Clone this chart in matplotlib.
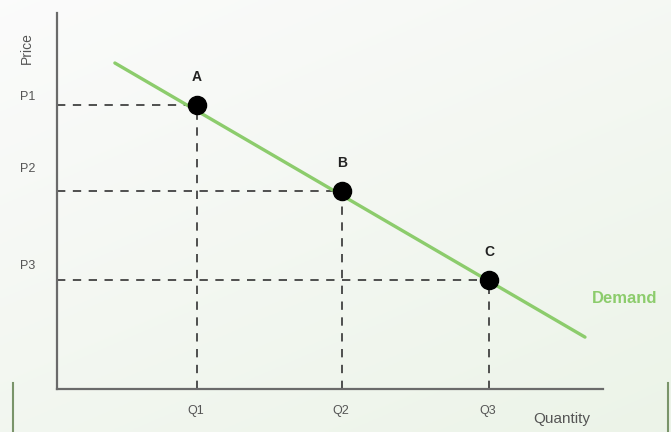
import numpy as np
import matplotlib.pyplot as plt

# points on the demand curve
point_names = ['A', 'B', 'C']
quantities = [2.56, 5.22, 7.91]
prices = [7.55, 5.27, 2.90]
q_labels = ['Q1', 'Q2', 'Q3']
p_labels = ['P1', 'P2', 'P3']
# label offsets in data units (labels sit a little above the price lines)
p_label_y = [7.6, 5.7, 3.1]

# demand line end points
demand_x = [1.06, 9.67]
demand_y = [8.67, 1.38]

plt.rcParams['font.family'] = ['Liberation Sans', 'DejaVu Sans']

fig = plt.figure(figsize=(6.71, 4.32), dpi=100)

# soft background gradient
bg = fig.add_axes([0, 0, 1, 1], zorder=-1)
yy, xx = np.mgrid[0:1:200j, 0:1:200j]
t = np.clip(0.6 * yy + 0.4 * xx, 0, 1)
top = np.array([0.985, 0.985, 0.985])
bottom = np.array([0.925, 0.955, 0.910])
img = top[None, None, :] * (1 - t[..., None]) + bottom[None, None, :] * t[..., None]
bg.imshow(img, aspect='auto', extent=[0, 1, 0, 1], origin='upper')
bg.set_axis_off()

# green frame marks at the bottom corners
bg.plot([13 / 671, 13 / 671], [0, 49 / 432], color='#7a946a', lw=1.5)
bg.plot([668 / 671, 668 / 671], [0, 49 / 432], color='#7a946a', lw=1.5)
bg.set_xlim(0, 1)
bg.set_ylim(0, 1)

ax = fig.add_axes([57 / 671, 43 / 432, 546 / 671, 376 / 432])
ax.patch.set_alpha(0)
ax.set_xlim(0, 10)
ax.set_ylim(0, 10)
for s in ['top', 'right']:
    ax.spines[s].set_visible(False)
for s in ['left', 'bottom']:
    ax.spines[s].set_color('#6a6a6a')
    ax.spines[s].set_linewidth(1.6)
ax.set_xticks([])
ax.set_yticks([])

ax.plot(demand_x, demand_y, color='#8ccc6c', lw=2.4, solid_capstyle='round', zorder=2)

for q, p in zip(quantities, prices):
    ax.plot([0, q], [p, p], color='#333333', lw=1.2, ls=(0, (5, 4.5)), zorder=1)
    ax.plot([q, q], [0, p], color='#333333', lw=1.2, ls=(0, (5, 4.5)), zorder=1)

ax.scatter(quantities, prices, s=170, color='black', zorder=3)

for name, q, p in zip(point_names, quantities, prices):
    ax.text(q, p + 0.55, name, ha='center', va='bottom', fontsize=10,
            fontweight='bold', color='#222222')

for lab, y in zip(p_labels, p_label_y):
    ax.text(-0.53, y, lab, ha='center', va='bottom', fontsize=9, color='#555555',
            clip_on=False)

for lab, q in zip(q_labels, quantities):
    ax.text(q - 0.02, -0.42, lab, ha='center', va='top', fontsize=9, color='#555555',
            clip_on=False)

ax.text(-0.55, 9.07, 'Price', rotation=90, ha='center', va='center', fontsize=10,
        color='#555555', clip_on=False)
ax.text(9.25, -0.6, 'Quantity', ha='center', va='top', fontsize=11, color='#555555',
        clip_on=False)
ax.text(10.4, 2.4, 'Demand', ha='center', va='center', fontsize=12,
        fontweight='bold', color='#8ccc6c', clip_on=False)

fig.savefig('out.png', dpi=100)
